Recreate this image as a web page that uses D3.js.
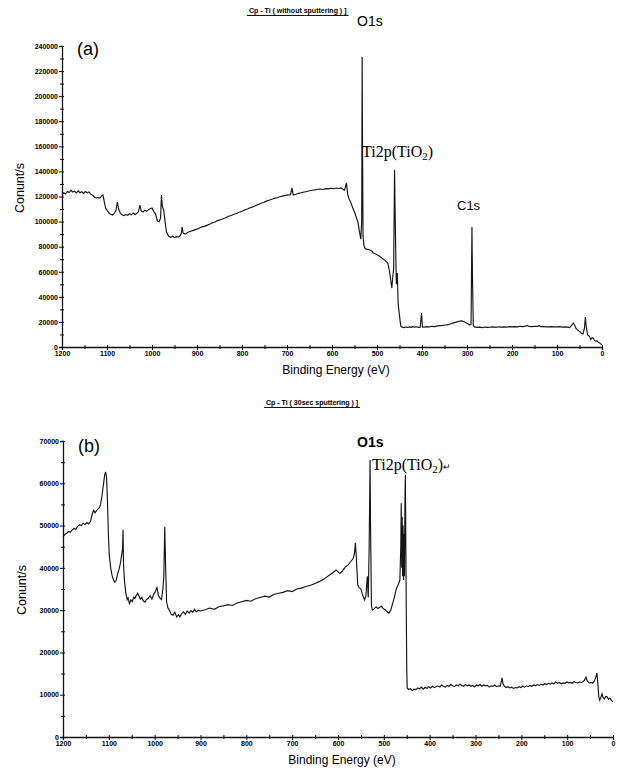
<!DOCTYPE html>
<html>
<head>
<meta charset="utf-8">
<script src="https://cdn.jsdelivr.net/npm/d3@7"></script>
<style>
  body { margin: 0; background: #fff; }
  svg { display: block; font-family: Arial, "Liberation Sans", sans-serif; }
</style>
</head>
<body>
<div id="graph-container"></div>
<script>
// Spectrum (a): without sputtering, binding energy (eV) and counts/s
var energyA = [1200,1196,1192,1188,1184,1180,1176,1172,1168,1164,1160,1156,1152,1148,1144,1140,1136,1132,1128,1124,1120,1116,1112,1109,1106,1103,1100,1096,1092,1088,1084,1080,1077,1074,1070,1066,1062,1058,1054,1050,1046,1042,1038,1034,1030,1027,1024,1020,1016,1012,1008,1004,1000,996,992,988,984,981,979,977,974,971,968,965,962,958,954,950,946,942,938,935,933,931,926,920,914,908,902,896,890,884,878,872,866,860,854,848,842,836,830,824,818,812,806,800,794,788,782,776,770,764,758,752,746,740,734,728,722,716,710,704,698,692,689,686,680,674,668,662,656,650,644,638,632,626,620,614,608,602,596,590,584,580,576,572,568,565,562,558,554,550,546,542,539,536,534,533,532,531,529,527,524,520,516,512,508,504,500,496,492,488,484,480,476,472,469,467,465,463,461,459,457,455,453,451,449,447,444,440,436,432,428,424,421,416,412,408,404,401,399,395,390,384,378,372,366,360,354,348,342,336,330,324,318,312,306,300,294,291,289,288,286,283,278,272,266,260,254,248,242,236,230,224,218,212,206,200,194,188,182,176,170,166,162,156,150,144,140,136,130,124,118,112,106,100,94,88,82,76,72,68,64,61,58,54,50,46,42,39,37,35,32,28,25,22,20,17,14,11,9,6,3,0];
var countsA = [121500,123000,122000,124000,123200,125000,123500,124200,122800,124500,123000,123800,122500,124000,123000,123600,121800,121000,119500,118800,119200,118800,120500,121200,116000,110500,109200,107000,105800,105200,106500,109000,115600,110000,106500,105200,104800,105600,105000,106200,105400,106800,105600,106500,108000,113200,108500,107600,109000,108200,109500,110300,110800,108000,106000,100500,99700,103000,121200,112000,109200,100000,92000,89500,88000,87500,88300,87200,88000,87700,88500,90500,95700,90900,90000,91500,92300,93000,93800,94500,95600,96200,97000,97800,99000,99600,100800,101500,102200,103000,104200,104800,105800,106500,107500,108200,109300,110000,111000,111700,112800,113500,114600,115200,116300,117000,117800,118500,119000,119800,120300,120800,121300,121500,126800,121200,121800,122500,123000,123600,124000,124600,125000,125300,125800,126000,125600,126300,126100,126600,126200,126800,126400,126900,125800,125000,130800,121500,118000,115000,111000,107600,103500,99000,92000,86000,100000,231200,150000,88000,81000,78900,78000,77800,77300,76500,75000,74300,73500,72800,71800,70500,69500,68300,67000,60000,52000,47000,56000,62000,141100,90000,50000,59000,35100,28000,22000,16500,15800,15500,15900,15600,16000,15700,16200,15800,16100,15700,15800,27100,16000,15800,16200,16000,16500,16300,16800,17000,17200,17500,17800,18500,19200,19800,20500,20800,20200,19000,17500,18000,95700,60000,17000,16000,15600,15800,15500,15900,15700,15800,16000,15600,16100,15800,16000,15900,16200,16000,16300,16000,16500,16200,16600,17200,16300,16200,16500,16400,17000,16300,16200,16100,16000,16200,16100,16000,16200,15900,16100,15800,15500,17000,19100,17500,15000,13500,12500,11000,10500,15000,23900,16000,9600,8500,6000,7500,7200,5500,4500,5000,4000,3500,2500,1600];

// Spectrum (b): 30 sec sputtering
var energyB = [1200,1196,1192,1188,1184,1180,1176,1172,1168,1164,1160,1156,1152,1148,1144,1140,1136,1133,1130,1127,1124,1121,1118,1115,1112,1109,1107,1105,1103,1101,1099,1096,1093,1090,1087,1084,1081,1078,1075,1072,1070,1069,1068,1066,1063,1060,1058,1055,1052,1049,1046,1043,1040,1037,1034,1031,1028,1025,1021,1018,1014,1010,1006,1002,998,995,992,988,985,982,980,978,976,974,971,968,964,960,956,952,948,945,941,937,933,929,925,921,917,913,909,905,900,890,880,870,860,850,840,830,820,810,800,790,780,770,760,750,740,730,720,710,700,690,680,670,660,650,640,630,620,612,604,596,590,584,578,572,567,564,562,560,557,554,550,546,542,539,536,534,532,530,529,527,525,521,517,513,509,505,501,497,493,489,485,481,477,474,471,468,465,463,462,461,460,459,458,457,456,455,454,453,452,451,450,449,446,442,438,434,430,426,422,418,414,410,406,402,398,394,390,386,382,378,374,370,366,362,358,354,350,346,342,338,334,330,326,322,318,314,310,306,302,298,294,290,286,282,278,274,270,266,262,258,254,250,246,242,240,237,233,229,225,221,217,213,209,205,201,197,193,189,185,181,177,173,169,165,161,157,153,149,145,141,137,133,129,125,121,117,113,109,105,101,97,93,89,85,81,77,73,69,65,62,59,56,52,48,44,41,38,35,33,31,29,27,24,22,19,16,13,10,7,4,2,0];
var countsB = [47300,47900,48200,48600,48400,49000,49300,49100,49800,50200,50000,50600,50200,50700,50400,51000,52800,53600,53000,53500,53900,54200,55000,57000,59500,62000,62700,61500,56000,48000,43000,40000,38200,37200,36600,37000,38500,39500,41000,43000,44500,49000,41000,37100,34000,32500,32900,31500,32400,32000,33000,32800,33500,34000,33200,32600,33000,32200,31900,32500,32800,33400,32600,33800,34500,35500,33500,32800,32500,35000,38000,49700,40000,32000,30500,30000,29000,28800,29500,28400,28900,28400,29200,29600,29000,29800,29300,29900,29500,30200,29600,30000,29800,30100,30500,30200,30800,31000,31300,31100,31700,32000,32300,32100,32700,33000,33300,33100,33700,34000,34200,34600,34400,35000,35200,35600,35900,36300,36800,37400,38200,38800,39500,38700,39300,40200,40700,41500,42200,43500,45900,42500,36000,35300,35000,33500,32400,33500,38000,33000,45000,65500,50000,31000,30000,30300,30800,30400,30700,30900,30300,30100,29600,29300,30000,31500,33000,34500,35500,36200,37100,45000,55300,40000,52000,38000,50000,37100,48000,38000,55000,62000,45000,29300,16000,11600,11200,11400,11000,11300,11200,11600,11400,11800,11300,11700,11500,11900,11600,12000,11700,11900,12100,11800,12300,12000,11800,12200,12000,12400,12100,11900,12300,12100,12500,12200,12000,12400,12100,12300,12000,12200,11900,12300,12100,12400,12000,12300,12100,12200,11800,12100,12000,12300,11900,12100,12000,14000,12600,12000,11700,11900,11600,11800,11500,11700,11600,11900,11700,12000,11800,12100,11900,12200,12000,12300,12100,12400,12200,12500,12300,12600,12400,12700,12500,12800,12600,13000,12700,12900,12600,12800,12700,13000,12800,12900,12700,13100,12900,12800,13000,12900,13100,13500,14200,13200,12800,12900,12700,13200,14000,15100,12500,9500,8700,9200,10200,9400,9000,9600,9500,8900,9200,8800,8500,8300];

// Tick values
var xTicks = [1200,1100,1000,900,800,700,600,500,400,300,200,100,0];
var yTicksA = [0,20000,40000,60000,80000,100000,120000,140000,160000,180000,200000,220000,240000];
var yTicksB = [0,10000,20000,30000,40000,50000,60000,70000];

var svgWidth = 620, svgHeight = 775;
var svg = d3.select("#graph-container").append("svg")
  .attr("width", svgWidth).attr("height", svgHeight);

function drawPanel(opt) {
  var x = d3.scaleLinear().domain([1200, 0]).range([opt.left, opt.right]);
  var y = d3.scaleLinear().domain([0, opt.yMax]).range([opt.bottom, opt.top]);
  var g = svg.append("g");

  // x axis, major + minor ticks crossing the line
  var xAxis = g.append("g")
    .attr("transform", "translate(0," + opt.bottom + ")")
    .call(d3.axisBottom(x).tickValues(xTicks).tickSize(3).tickFormat(d3.format("d")));
  xAxis.selectAll(".tick line").attr("y1", -2);
  xAxis.selectAll(".tick text").attr("dy", "0.6em").attr("y", 5)
    .style("font-size", "7px").style("font-weight", "bold");
  g.append("g")
    .attr("transform", "translate(0," + opt.bottom + ")")
    .call(d3.axisBottom(x).tickValues(d3.range(50, 1200, 100)).tickSize(2).tickFormat(""))
    .call(function (s) { s.select(".domain").remove(); s.selectAll("line").attr("y1", -2); });

  // y axis
  var yAxis = g.append("g")
    .attr("transform", "translate(" + opt.left + ",0)")
    .call(d3.axisLeft(y).tickValues(opt.yTicks).tickSize(3).tickFormat(d3.format("d")));
  yAxis.selectAll(".tick line").attr("x1", 2);
  yAxis.selectAll(".tick text").attr("x", -4)
    .style("font-size", "7px").style("font-weight", "bold");
  g.append("g")
    .attr("transform", "translate(" + opt.left + ",0)")
    .call(d3.axisLeft(y).tickValues(opt.yMinor).tickSize(2).tickFormat(""))
    .call(function (s) { s.select(".domain").remove(); s.selectAll("line").attr("x1", 2); });

  g.selectAll(".domain").attr("stroke", "#111").attr("stroke-width", 1.3);
  g.selectAll(".tick line").attr("stroke", "#111");

  // spectrum line
  var pts = opt.energy.map(function (e, i) { return [e, opt.counts[i]]; });
  g.append("path")
    .datum(pts)
    .attr("fill", "none")
    .attr("stroke", "#151515")
    .attr("stroke-width", 1.15)
    .attr("d", d3.line().x(function (d) { return x(d[0]); }).y(function (d) { return y(d[1]); }));

  // axis titles
  g.append("text")
    .attr("x", (opt.left + opt.right) / 2 + 4).attr("y", opt.bottom + 27)
    .attr("text-anchor", "middle").style("font-size", "12px")
    .text("Binding Energy (eV)");
  g.append("text")
    .attr("transform", "translate(" + opt.yTitleX + "," + opt.yTitleY + ") rotate(-90)")
    .attr("text-anchor", "middle").style("font-size", "12.5px")
    .text("Conunt/s");

  // small underlined header
  var head = g.append("text")
    .attr("x", opt.headX).attr("y", opt.headY)
    .style("font-size", "7px").style("font-weight", "bold")
    .text(opt.header);
  var bb = head.node().getBBox();
  g.append("line")
    .attr("x1", bb.x - 2).attr("x2", bb.x + bb.width + 2)
    .attr("y1", opt.headY + 2.5).attr("y2", opt.headY + 2.5)
    .attr("stroke", "#111").attr("stroke-width", 1);

  // panel letter
  g.append("text")
    .attr("x", opt.letterX).attr("y", opt.letterY)
    .style("font-size", "18px")
    .text(opt.letter);

  return { x: x, y: y, g: g };
}

// Panel (a)
var pa = drawPanel({
  left: 62, right: 602, top: 46, bottom: 347, yMax: 240000,
  yTicks: yTicksA, yMinor: d3.range(10000, 240000, 20000),
  energy: energyA, counts: countsA,
  header: "Cp - Ti ( without sputtering ) ]", headX: 249, headY: 13,
  letter: "(a)", letterX: 77, letterY: 55, yTitleX: 24, yTitleY: 188
});
pa.g.append("text").attr("x", 357).attr("y", 26).style("font-size", "14px").text("O1s");
pa.g.append("text").attr("x", 362).attr("y", 157)
  .style("font-family", "'Liberation Serif', 'Times New Roman', serif").style("font-size", "16px")
  .html("Ti2p(TiO<tspan font-size='11px' dy='3'>2</tspan><tspan dy='-3'>)</tspan>");
pa.g.append("text").attr("x", 457).attr("y", 210).style("font-size", "13px").text("C1s");

// Panel (b)
var pb = drawPanel({
  left: 63, right: 613, top: 441, bottom: 737, yMax: 70000,
  yTicks: yTicksB, yMinor: d3.range(5000, 70000, 10000),
  energy: energyB, counts: countsB,
  header: "Cp - Ti ( 30sec sputtering ) ]", headX: 266, headY: 405,
  letter: "(b)", letterX: 78, letterY: 452, yTitleX: 26, yTitleY: 590
});
pb.g.append("text").attr("x", 357).attr("y", 447).style("font-size", "14px").style("font-weight", "bold").text("O1s");
pb.g.append("text").attr("x", 372).attr("y", 470)
  .style("font-family", "'Liberation Serif', 'Times New Roman', serif").style("font-size", "16px")
  .html("Ti2p(TiO<tspan font-size='11px' dy='3'>2</tspan><tspan dy='-3'>)</tspan><tspan font-size='9px'>↵</tspan>");
</script>
</body>
</html>
